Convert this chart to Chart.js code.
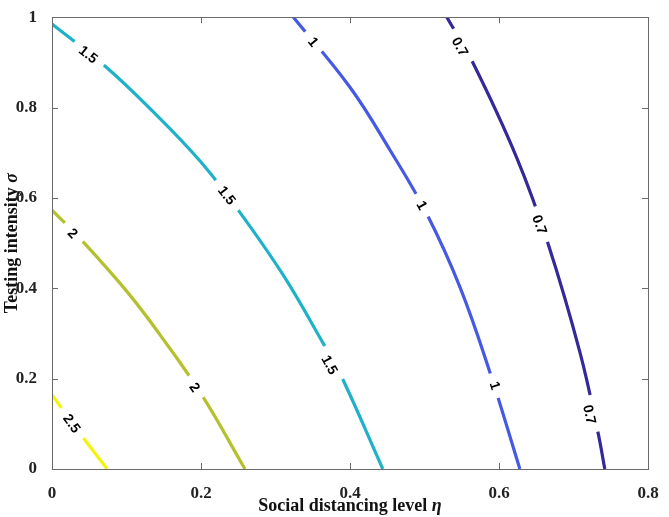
<!DOCTYPE html>
<html>
<head>
<meta charset="utf-8">
<script src="https://cdn.jsdelivr.net/npm/chart.js@4"></script>
<style>
  html, body { margin: 0; padding: 0; background: #fff; }
  #wrap { width: 669px; height: 517px; }
</style>
</head>
<body>
<div id="wrap"><canvas id="c" width="669" height="517"></canvas></div>
<script>
// ---- Data ----
const levels = ['2.5', '2', '1.5', '1', '0.7'];
const levelColors = ['#f3f30f', '#b4c12e', '#1eb1c8', '#4659e4', '#34289a'];

// contour level 2.5
const c25x = [0, 0.042, 0.074];
const c25y = [0.164, 0.069, 0];
// contour level 2
const c20x = [0, 0.040, 0.101, 0.145, 0.201, 0.259];
const c20y = [0.573, 0.506, 0.392, 0.297, 0.164, 0];
// contour level 1.5
const c15x = [0, 0.071, 0.135, 0.199, 0.250, 0.310, 0.364, 0.389, 0.444];
const c15y = [0.985, 0.892, 0.792, 0.681, 0.573, 0.430, 0.278, 0.203, 0];
// contour level 1
const c10x = [0.324, 0.400, 0.454, 0.503, 0.548, 0.588, 0.628];
const c10y = [1.0, 0.845, 0.705, 0.565, 0.401, 0.213, 0];
// contour level 0.7
const c07x = [0.530, 0.565, 0.624, 0.666, 0.709, 0.733, 0.742];
const c07y = [1.0, 0.899, 0.688, 0.498, 0.256, 0.080, 0];

// inline contour labels (level index, x, y)
const labelLevel = [0, 1, 1, 2, 2, 2, 3, 3, 3, 4, 4, 4];
const labelX = [0.027, 0.028, 0.192, 0.049, 0.235, 0.373, 0.351, 0.497, 0.595, 0.548, 0.655, 0.722];
const labelY = [0.101, 0.522, 0.181, 0.918, 0.606, 0.231, 0.946, 0.584, 0.185, 0.935, 0.541, 0.121];

const xTickValues = [0, 0.2, 0.4, 0.6, 0.8];
const xTickLabels = ['0', '0.2', '0.4', '0.6', '0.8'];
const yTickValues = [0, 0.2, 0.4, 0.6, 0.8, 1];
const yTickLabels = ['0', '0.2', '0.4', '0.6', '0.8', '1'];

const xTitle = ['Social distancing level ', 'η'];
const yTitle = ['Testing intensity ', 'σ'];

// ---- Build datasets ----
const curvesX = [c25x, c20x, c15x, c10x, c07x];
const curvesY = [c25y, c20y, c15y, c10y, c07y];
const datasets = levels.map((lv, i) => ({
  label: lv,
  data: curvesX[i].map((x, k) => ({ x: x, y: curvesY[i][k] })),
  showLine: true,
  borderColor: levelColors[i],
  backgroundColor: levelColors[i],
  borderWidth: 3.2,
  pointRadius: 0,
  tension: 0.4,
  fill: false
}));

const SERIF = "'Liberation Serif', 'Times New Roman', serif";

const decorPlugin = {
  id: 'decor',
  afterDatasetsDraw(chart) {
    const ctx = chart.ctx;
    const xs = chart.scales.x, ys = chart.scales.y;
    ctx.save();
    ctx.font = "bold 14px 'Liberation Sans', Arial, sans-serif";
    ctx.textAlign = 'center';
    ctx.textBaseline = 'middle';
    for (let i = 0; i < labelX.length; i++) {
      const li = labelLevel[i];
      const px = xs.getPixelForValue(labelX[i]);
      const py = ys.getPixelForValue(labelY[i]);
      const meta = chart.getDatasetMeta(li).data;
      let best = 1e9, ang = 0;
      for (let k = 0; k < meta.length - 1; k++) {
        const a = meta[k], b = meta[k + 1];
        const dx = b.x - a.x, dy = b.y - a.y;
        const L2 = dx * dx + dy * dy;
        let t = ((px - a.x) * dx + (py - a.y) * dy) / L2;
        t = Math.max(0, Math.min(1, t));
        const qx = a.x + t * dx, qy = a.y + t * dy;
        const d = Math.hypot(px - qx, py - qy);
        if (d < best) { best = d; ang = Math.atan2(dy, dx); }
      }
      if (ang > Math.PI / 2) ang -= Math.PI;
      if (ang < -Math.PI / 2) ang += Math.PI;
      const txt = levels[li];
      const w = ctx.measureText(txt).width;
      ctx.save();
      ctx.translate(px, py);
      ctx.rotate(ang);
      ctx.fillStyle = '#ffffff';
      ctx.fillRect(-w / 2 - 9, -8, w + 18, 16);
      ctx.fillStyle = '#000000';
      ctx.fillText(txt, 0, 1);
      ctx.restore();
    }
    ctx.restore();
  },
  afterDraw(chart) {
    const ctx = chart.ctx;
    const a = chart.chartArea;
    const xs = chart.scales.x, ys = chart.scales.y;
    ctx.save();
    ctx.strokeStyle = '#6a6a6a';
    ctx.lineWidth = 1;
    ctx.strokeRect(Math.round(a.left) + 0.5, Math.round(a.top) + 0.5,
      Math.round(a.right - a.left), Math.round(a.bottom - a.top));
    const tl = 6;
    ctx.beginPath();
    xTickValues.forEach(v => {
      const p = Math.round(xs.getPixelForValue(v)) + 0.5;
      ctx.moveTo(p, a.bottom); ctx.lineTo(p, a.bottom - tl);
      ctx.moveTo(p, a.top); ctx.lineTo(p, a.top + tl);
    });
    yTickValues.forEach(v => {
      const p = Math.round(ys.getPixelForValue(v)) + 0.5;
      ctx.moveTo(a.left, p); ctx.lineTo(a.left + tl, p);
      ctx.moveTo(a.right, p); ctx.lineTo(a.right - tl, p);
    });
    ctx.stroke();

    ctx.fillStyle = '#111';
    ctx.textBaseline = 'middle';
    ctx.textAlign = 'left';
    const f1 = 'bold 18px ' + SERIF;
    const f2 = 'italic bold 18px ' + SERIF;
    ctx.font = f1; const w1 = ctx.measureText(xTitle[0]).width;
    ctx.font = f2; const w2 = ctx.measureText(xTitle[1]).width;
    const cx = (a.left + a.right) / 2;
    let sx = cx - (w1 + w2) / 2;
    ctx.font = f1; ctx.fillText(xTitle[0], sx, 506);
    ctx.font = f2; ctx.fillText(xTitle[1], sx + w1, 506);
    ctx.font = f1; const v1 = ctx.measureText(yTitle[0]).width;
    ctx.font = f2; const v2 = ctx.measureText(yTitle[1]).width;
    ctx.save();
    ctx.translate(12, (a.top + a.bottom) / 2);
    ctx.rotate(-Math.PI / 2);
    const sy = -(v1 + v2) / 2;
    ctx.font = f1; ctx.fillText(yTitle[0], sy, 0);
    ctx.font = f2; ctx.fillText(yTitle[1], sy + v1, 0);
    ctx.restore();
    ctx.restore();
  }
};

new Chart(document.getElementById('c'), {
  type: 'scatter',
  data: { datasets: datasets },
  options: {
    responsive: false,
    animation: false,
    layout: { padding: { top: 5, right: 21, left: 0, bottom: 0 } },
    plugins: { legend: { display: false }, tooltip: { enabled: false } },
    scales: {
      x: {
        type: 'linear', min: 0, max: 0.8,
        grid: { display: false }, border: { display: false },
        afterBuildTicks: s => { s.ticks = xTickValues.map(v => ({ value: v })); },
        afterFit: s => { s.height = 48; },
        ticks: {
          padding: 6, color: '#222',
          font: { family: SERIF, size: 17, weight: 'bold' },
          maxRotation: 0,
          callback: (v) => xTickLabels[xTickValues.findIndex(t => Math.abs(t - v) < 1e-9)]
        }
      },
      y: {
        type: 'linear', min: 0, max: 1,
        grid: { display: false }, border: { display: false },
        afterBuildTicks: s => { s.ticks = yTickValues.map(v => ({ value: v })); },
        afterFit: s => { s.width = 52; },
        ticks: {
          padding: 7, color: '#222',
          font: { family: SERIF, size: 17, weight: 'bold' },
          callback: (v) => yTickLabels[yTickValues.findIndex(t => Math.abs(t - v) < 1e-9)]
        }
      }
    }
  },
  plugins: [decorPlugin]
});
</script>
</body>
</html>
